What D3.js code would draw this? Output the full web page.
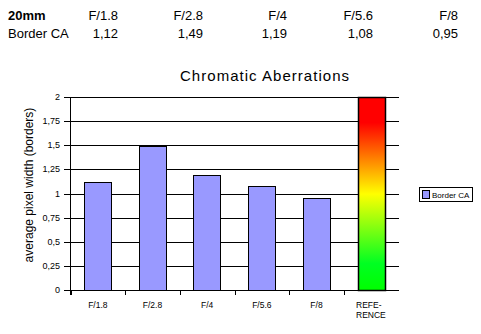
<!DOCTYPE html>
<html><head><meta charset="utf-8">
<script src="https://cdn.jsdelivr.net/npm/d3@7/dist/d3.min.js"></script>
<style>body{margin:0;background:#fff}svg{display:block}text{font-family:Arial,"Liberation Sans",sans-serif}</style>
</head><body>
<script>
const lensLabel = "20mm";
const seriesName = "Border CA";
const apertures = ["F/1.8","F/2.8","F/4","F/5.6","F/8"];
const values = [1.12,1.49,1.19,1.08,0.95];
const valueLabels = ["1,12","1,49","1,19","1,08","0,95"];
const referenceLabel = ["REFE-","RENCE"];
const referenceValue = 2;
const yTicks = [0,0.25,0.5,0.75,1,1.25,1.5,1.75,2];
const yTickLabels = ["0","0,25","0,5","0,75","1","1,25","1,5","1,75","2"];
const headerRight = [118,203,287,373,458];

(function(){
const W=481,H=334;
const svg=d3.select("body").append("svg").attr("width",W).attr("height",H);

// header table
svg.append("text").attr("x",8).attr("y",20).attr("font-size",13).attr("font-weight","bold").text(lensLabel);
svg.append("text").attr("x",8).attr("y",38).attr("font-size",13).text(seriesName);
apertures.forEach((a,i)=>{
  svg.append("text").attr("x",headerRight[i]).attr("y",20).attr("font-size",13).attr("text-anchor","end").text(a);
  svg.append("text").attr("x",headerRight[i]).attr("y",38).attr("font-size",13).attr("text-anchor","end").text(valueLabels[i]);
});

// chart
const pLeft=70,pRight=399,pTop=97,pBottom=290;
const cats=apertures.concat(["REF"]);
const x=d3.scaleBand().domain(cats).range([pLeft+0.5,pRight-0.5]).paddingInner(0).paddingOuter(0);
const y=d3.scaleLinear().domain([0,2]).range([pBottom,pTop]);

// gradient
const defs=svg.append("defs");
const g=defs.append("linearGradient").attr("id","grad").attr("x1",0).attr("y1",0).attr("x2",0).attr("y2",1);
[[0,"#ff0000"],[0.13,"#ff0000"],[0.5,"#ffff00"],[0.86,"#00ff22"],[1,"#00ff00"]].forEach(s=>g.append("stop").attr("offset",s[0]).attr("stop-color",s[1]));

// gridlines
svg.append("g").selectAll("line").data(yTicks).join("line")
  .attr("x1",pLeft-6).attr("x2",pRight).attr("y1",d=>Math.round(y(d))+0.5).attr("y2",d=>Math.round(y(d))+0.5)
  .attr("stroke","#000").attr("stroke-width",1);
svg.append("g").selectAll("text").data(yTicks).join("text")
  .attr("x",pLeft-10).attr("y",d=>y(d)+3).attr("font-size",9).attr("text-anchor","end")
  .text((d,i)=>yTickLabels[i]);

// bars
const bw=x.bandwidth()/2;
svg.append("g").selectAll("rect").data(values).join("rect")
  .attr("x",(d,i)=>Math.round(x(apertures[i])+x.bandwidth()/4)+0.5)
  .attr("y",d=>Math.round(y(d))+0.5)
  .attr("width",Math.round(bw))
  .attr("height",d=>Math.round(y(0))-Math.round(y(d)))
  .attr("fill","#9999ff").attr("stroke","#000").attr("stroke-width",1);
svg.append("rect")
  .attr("x",Math.round(x("REF")+x.bandwidth()/4)+0.5)
  .attr("y",Math.round(y(referenceValue))+0.5)
  .attr("width",Math.round(bw))
  .attr("height",Math.round(y(0))-Math.round(y(referenceValue)))
  .attr("fill","url(#grad)").attr("stroke","#000").attr("stroke-width",1.5);

// axes lines
svg.append("line").attr("x1",pLeft+0.5).attr("x2",pLeft+0.5).attr("y1",pTop).attr("y2",pBottom+5).attr("stroke","#000");
svg.append("line").attr("x1",pLeft).attr("x2",pRight).attr("y1",pBottom+0.5).attr("y2",pBottom+0.5).attr("stroke","#000");
// category ticks
svg.append("g").selectAll("line").data(cats).join("line")
  .attr("x1",d=>Math.round(x(d))+0.5).attr("x2",d=>Math.round(x(d))+0.5)
  .attr("y1",pBottom).attr("y2",pBottom+5).attr("stroke","#000");
svg.append("g").selectAll("text").data(apertures).join("text")
  .attr("x",d=>x(d)+x.bandwidth()/2).attr("y",308).attr("font-size",8.5).attr("text-anchor","middle").text(d=>d);
referenceLabel.forEach((t,i)=>svg.append("text").attr("x",356).attr("y",308+i*10).attr("font-size",8.5).text(t));

// title
svg.append("text").attr("x",264.5).attr("y",81).attr("font-size",15).attr("text-anchor","middle")
  .attr("textLength",169).attr("lengthAdjust","spacing").text("Chromatic Aberrations");
// y label
svg.append("text").attr("transform","translate(33,185) rotate(-90)").attr("font-size",12).attr("text-anchor","middle")
  .text("average pixel width (borders)");

// legend
svg.append("rect").attr("x",419.5).attr("y",187.5).attr("width",53).attr("height",14).attr("fill","#fff").attr("stroke","#000");
svg.append("rect").attr("x",422.5).attr("y",190.5).attr("width",7).attr("height",8).attr("fill","#9999ff").attr("stroke","#000");
svg.append("text").attr("x",432).attr("y",198).attr("font-size",8).text(seriesName);
})();
</script>
</body></html>
